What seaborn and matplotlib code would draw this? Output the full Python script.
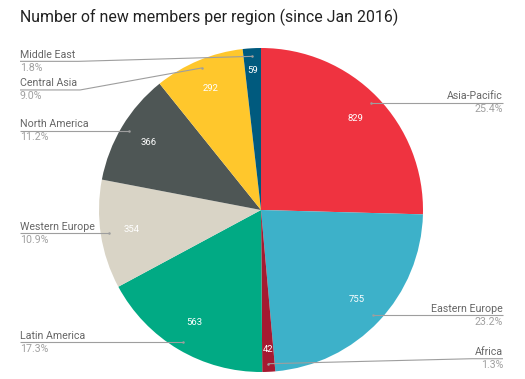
import numpy as np
import seaborn as sns
import matplotlib.pyplot as plt

sns.set_style("white")
plt.rcParams["font.family"] = ["Roboto", "DejaVu Sans"]

# Data, clockwise from 12 o'clock
regions = ["Asia-Pacific", "Eastern Europe", "Africa", "Latin America",
           "Western Europe", "North America", "Central Asia", "Middle East"]
members = [829, 755, 42, 563, 354, 366, 292, 59]
colors = ["#EF3340", "#3DB1C9", "#A51A31", "#01AA84",
          "#D9D4C6", "#4E5655", "#FFC72C", "#005A7E"]

total = sum(members)
W, H = 525, 379
cx, cy, R = 261, 169, 162

# vertical nudges (px) for labels that would collide
label_nudge = {"Middle East": -5, "Central Asia": -22, "Africa": 5}

fig = plt.figure(figsize=(W / 100, H / 100), dpi=100)
ax = fig.add_axes([0, 0, 1, 1])

palette = sns.color_palette(colors)
wedges, _ = ax.pie(members, colors=palette, startangle=90, counterclock=False,
                   center=(cx, cy), radius=R, wedgeprops=dict(linewidth=0))
ax.set_xlim(0, W)
ax.set_ylim(0, H)
ax.set_aspect("equal")
ax.axis("off")

fig.text(20 / W, 1 - 17 / H, "Number of new members per region (since Jan 2016)",
         fontsize=11.4, color="#212121", va="center", ha="left")

renderer = fig.canvas.get_renderer()
for w, name, val in zip(wedges, regions, members):
    mid = np.deg2rad((w.theta1 + w.theta2) / 2)
    frac = val / total
    # value label inside slice
    rv = 0.86 if frac < 0.03 else 0.81
    ax.text(cx + rv * R * np.cos(mid), cy + rv * R * np.sin(mid), str(val),
            color="white", fontsize=6.8, ha="center", va="center")
    # dot on slice
    dx, dy = cx + 0.95 * R * np.cos(mid), cy + 0.95 * R * np.sin(mid)
    ax.plot(dx, dy, "o", ms=1.8, color="#9e9e9e", mew=0)
    ly = dy + label_nudge.get(name, 0)
    right = np.cos(mid) > 0
    xe = 503 if right else 20
    ha = "right" if right else "left"
    t = ax.text(xe, ly + 1.5, name, fontsize=7.7, color="#666666", ha=ha, va="bottom")
    ax.text(xe, ly - 1.5, f"{100 * frac:.1f}%", fontsize=7.7, color="#a0a0a0",
            ha=ha, va="top")
    bb = t.get_window_extent(renderer).transformed(ax.transData.inverted())
    xk = bb.x0 - 3 if right else bb.x1 + 3
    ax.plot([xe, xk, dx], [ly, ly, dy], color="#9e9e9e", lw=0.8,
            solid_capstyle="butt")

plt.savefig("out.png", dpi=100)
